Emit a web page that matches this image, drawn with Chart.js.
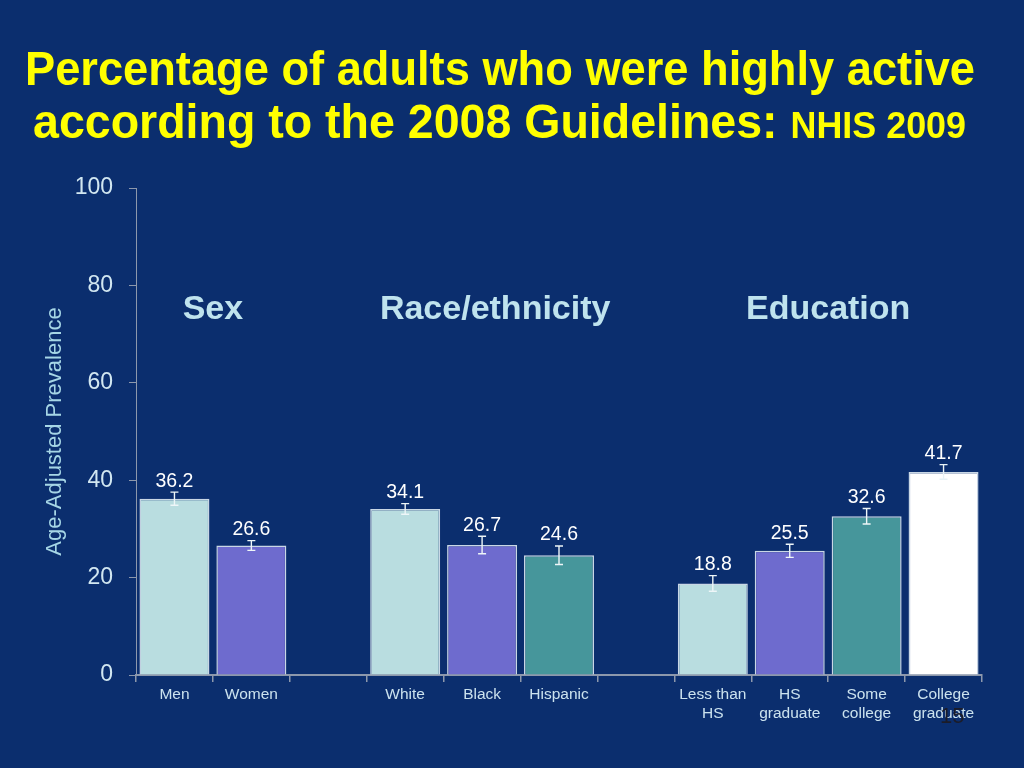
<!DOCTYPE html>
<html><head><meta charset="utf-8">
<script src="https://cdn.jsdelivr.net/npm/chart.js@4.4.1/dist/chart.umd.min.js"></script>
<style>
html,body{margin:0;padding:0;background:#0b2e6e;width:1024px;height:768px;overflow:hidden}
#wrap{position:relative;width:1024px;height:768px}
canvas{position:absolute;left:0;top:0}
.t{position:absolute;white-space:nowrap;color:#ffff00;font-family:"Liberation Sans",Arial,sans-serif;font-weight:bold;transform-origin:0 0;line-height:1}
#pg{position:absolute;left:940px;top:703px;font:22px "Liberation Sans",Arial,sans-serif;color:#1c1c28}
</style></head><body>
<div id="wrap">
<canvas id="c" width="1024" height="768"></canvas>
<div class="t" id="t1" style="left:25px;top:45px;font-size:48px">Percentage of adults who were highly active</div>
<div class="t" id="t2" style="left:33px;top:98px;font-size:48px">according to the 2008 Guidelines: <span style="font-size:37px">NHIS 2009</span></div>
<div id="pg">15</div>
</div>
<script>
// ---- data ----
const categories = [['Men'], ['Women'], '', ['White'], ['Black'], ['Hispanic'], '', ['Less than', 'HS'], ['HS', 'graduate'], ['Some', 'college'], ['College', 'graduate']];
const values = [36.2, 26.6, null, 34.1, 26.7, 24.6, null, 18.8, 25.5, 32.6, 41.7];
const errors = [1.35, 1.0, null, 1.1, 1.8, 1.9, null, 1.6, 1.35, 1.6, 1.5];
const valueLabels = ['36.2', '26.6', '', '34.1', '26.7', '24.6', '', '18.8', '25.5', '32.6', '41.7'];
const groupLabels = ['Sex', 'Race/ethnicity', 'Education'];
const groupPositions = [0.5, 4.17, 8.5];
const groupLabelLevel = 75;
const yTicks = [0, 20, 40, 60, 80, 100];
const yAxisTitle = 'Age-Adjusted Prevalence';

// ---- styles ----
const LIGHT = '#b9dde0', PURPLE = '#6e6bce', TEAL = '#46969b', WHITE = '#ffffff';
const barColors = [LIGHT, PURPLE, null, LIGHT, PURPLE, TEAL, null, LIGHT, PURPLE, TEAL, WHITE];
const FONT = '"Liberation Sans", Arial, sans-serif';

// fit title lines
function fit(id, w) {
  const el = document.getElementById(id);
  const nat = el.getBoundingClientRect().width;
  el.style.transform = 'scaleX(' + (w / nat) + ')';
}
fit('t1', 950);
fit('t2', 933);

const overlay = {
  id: 'overlay',
  afterDatasetsDraw(chart) {
    const ctx = chart.ctx, xs = chart.scales.x, ys = chart.scales.y;
    ctx.save();
    values.forEach((v, i) => {
      if (v === null) return;
      const x = xs.getPixelForValue(i);
      const e = errors[i];
      const yt = ys.getPixelForValue(v + e), yb = ys.getPixelForValue(v - e);
      ctx.strokeStyle = i === 10 ? '#e8f2f6' : '#eef6f8';
      ctx.lineWidth = 1.4;
      ctx.beginPath();
      ctx.moveTo(x, yt); ctx.lineTo(x, yb);
      ctx.moveTo(x - 4, yt); ctx.lineTo(x + 4, yt);
      ctx.moveTo(x - 4, yb); ctx.lineTo(x + 4, yb);
      ctx.stroke();
      ctx.fillStyle = '#ffffff';
      ctx.font = '19.5px ' + FONT;
      ctx.textAlign = 'center';
      ctx.textBaseline = 'middle';
      ctx.fillText(valueLabels[i], x, yt - 11);
    });
    ctx.fillStyle = '#bfe3ee';
    ctx.font = 'bold 34px ' + FONT;
    ctx.textAlign = 'center';
    ctx.textBaseline = 'middle';
    groupLabels.forEach((g, k) => {
      const p = groupPositions[k];
      const i0 = Math.floor(p), f = p - i0;
      const x = xs.getPixelForValue(i0) + f * (xs.getPixelForValue(i0 + 1) - xs.getPixelForValue(i0));
      ctx.fillText(g, x, ys.getPixelForValue(groupLabelLevel));
    });
    ctx.restore();
  }
};

new Chart(document.getElementById('c'), {
  type: 'bar',
  data: {
    labels: categories,
    datasets: [{
      data: values,
      backgroundColor: barColors,
      borderColor: 'rgba(235,245,250,0.85)',
      borderWidth: 1.5,
      barPercentage: 0.91,
      categoryPercentage: 1.0
    }]
  },
  options: {
    responsive: false,
    animation: false,
    layout: { padding: { left: 0, right: 42, top: 188, bottom: 0 } },
    plugins: { legend: { display: false }, tooltip: { enabled: false }, title: { display: false } },
    scales: {
      x: {
        afterFit(s) { s.height = 93; },
        grid: { offset: true, drawOnChartArea: false, drawTicks: true, tickLength: 7, color: '#8d98ac', lineWidth: 1.5 },
        border: { display: true, color: '#8d98ac', width: 2 },
        ticks: { color: '#cbe2ee', font: { family: FONT, size: 15.5, lineHeight: 1.22 }, padding: 3, maxRotation: 0, autoSkip: false }
      },
      y: {
        min: 0, max: 100,
        afterFit(s) { s.width = 136; },
        afterBuildTicks(s) { s.ticks = yTicks.map(v => ({ value: v })); },
        grid: { drawOnChartArea: false, drawTicks: true, tickLength: 7, color: '#8d98ac' },
        border: { display: true, color: '#8d98ac', width: 1 },
        ticks: { color: '#d2e7f1', font: { family: FONT, size: 23 }, padding: 16 },
        title: { display: true, text: yAxisTitle, color: '#a6d6e6', font: { family: FONT, size: 22 }, padding: { top: 42, bottom: 0 } }
      }
    }
  },
  plugins: [overlay]
});
</script>
</body></html>
